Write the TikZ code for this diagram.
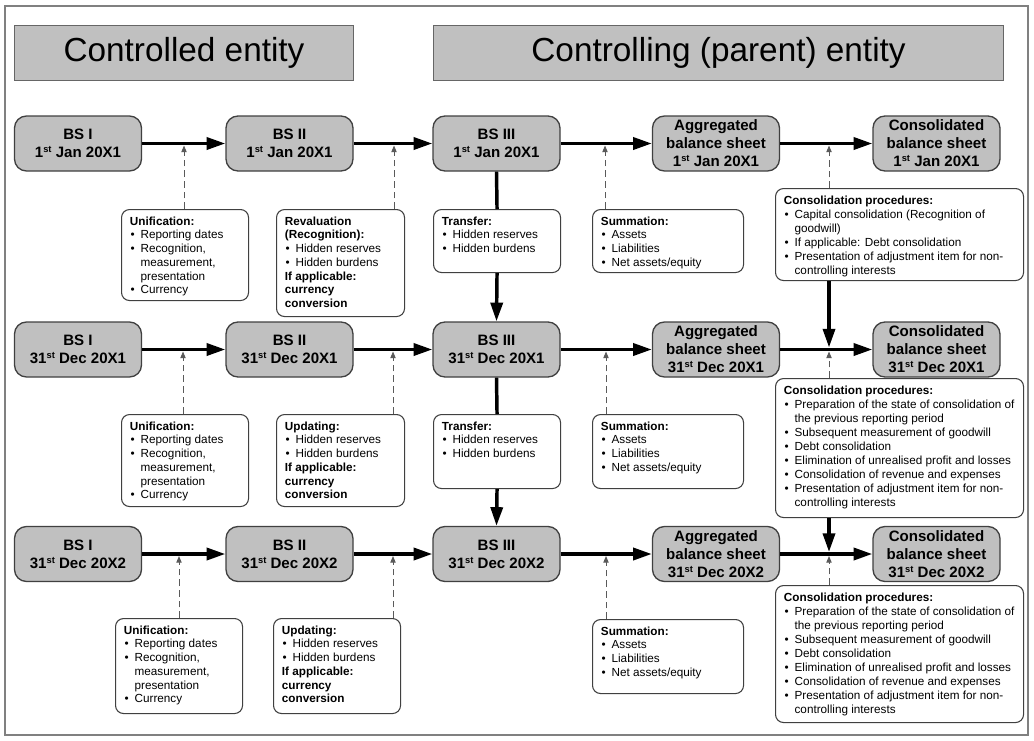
\documentclass[tikz,border=0pt]{standalone}
\usepackage{fontspec}
\setmainfont{Liberation Sans}
\usetikzlibrary{arrows.meta}
\definecolor{boxgray}{RGB}{192,192,192}
\definecolor{edgegray}{RGB}{64,64,64}
\definecolor{framegray}{RGB}{128,128,128}
\definecolor{dashgray}{RGB}{90,90,90}
\newcommand{\pxl}[1]{#1*0.75pt}
\newcommand{\sups}[1]{\raisebox{0.62ex}{\fontsize{7}{8}\selectfont #1}}
\newcommand{\itm}{\makebox[8pt][l]{\hspace{0.5pt}\textbullet}}
\newcommand{\cnt}{\hspace*{8pt}}
\newcommand{\unif}{\textbf{Unification:}\\ \itm Reporting dates\\ \itm Recognition,\\ \cnt measurement,\\ \cnt presentation\\ \itm Currency}
\newcommand{\updt}{\textbf{Updating:}\\ \itm Hidden reserves\\ \itm Hidden burdens\\ \textbf{If applicable:}\\ \textbf{currency}\\ \textbf{conversion}}
\newcommand{\trans}{\textbf{Transfer:}\\ \itm Hidden reserves\\ \itm Hidden burdens}
\newcommand{\summ}{\textbf{Summation:}\\ \itm Assets\\ \itm Liabilities\\ \itm Net assets/equity}
\newcommand{\consB}{\textbf{Consolidation procedures:}\\ \itm Preparation of the state of consolidation of\\ \cnt the previous reporting period\\ \itm Subsequent measurement of goodwill\\ \itm Debt consolidation\\ \itm Elimination of unrealised profit and losses\\ \itm Consolidation of revenue and expenses\\ \itm Presentation of adjustment item for non-\\ \cnt controlling interests}
\tikzset{
  bsnode/.style={draw=edgegray, line width=1pt, fill=boxgray, rounded corners=9pt,
    minimum width=95.25pt, minimum height=41.25pt, inner sep=0pt, align=center,
    font=\fontsize{11.3}{13.5}\selectfont\bfseries},
  header/.style={draw=edgegray!80, line width=0.8pt, fill=boxgray, anchor=north west,
    inner sep=0pt, minimum height=41.25pt, font=\fontsize{25}{30}\selectfont},
  annbox/.style={draw=edgegray, line width=0.8pt, fill=white, rounded corners=6pt,
    anchor=north west, inner sep=0pt},
  anntext/.style={anchor=north west, inner sep=0pt, align=left,
    font=\fontsize{8.8}{10.3}\selectfont, xshift=6.5pt, yshift=-5.5pt},
  anntextc/.style={anntext, font=\fontsize{8.8}{10.5}\selectfont},
  flow/.style={line width=2.6pt, -{Triangle[length=14pt,width=9pt]}},
  flowline/.style={line width=2.6pt},
  feed/.style={draw=dashgray, line width=0.75pt, dash pattern=on 5pt off 3pt,
    -{Triangle[length=5pt,width=4pt]}}
}
\begin{document}
\begin{tikzpicture}[x=0.75pt,y=-0.75pt]
\useasboundingbox (0,0) rectangle (1034,740);
\draw[framegray, line width=1pt] (5,6) rectangle (1028,735);
% headers
\node[header, minimum width=\pxl{339}] (h1) at (14,25) {Controlled entity};
\node[header, minimum width=\pxl{570}] (h2) at (433,25) {Controlling (parent) entity};
% row 1 nodes
\node[bsnode] (n11) at (78,143.5) {BS I\\1\sups{st} Jan 20X1};
\node[bsnode] (n12) at (289.5,143.5) {BS II\\1\sups{st} Jan 20X1};
\node[bsnode] (n13) at (496.5,143.5) {BS III\\1\sups{st} Jan 20X1};
\node[bsnode] (n14) at (716,143.5) {Aggregated\\balance sheet\\1\sups{st} Jan 20X1};
\node[bsnode] (n15) at (936.5,143.5) {Consolidated\\balance sheet\\1\sups{st} Jan 20X1};
% row 2 nodes
\node[bsnode] (n21) at (78,349.5) {BS I\\31\sups{st} Dec 20X1};
\node[bsnode] (n22) at (289.5,349.5) {BS II\\31\sups{st} Dec 20X1};
\node[bsnode] (n23) at (496.5,349.5) {BS III\\31\sups{st} Dec 20X1};
\node[bsnode] (n24) at (716,349.5) {Aggregated\\balance sheet\\31\sups{st} Dec 20X1};
\node[bsnode] (n25) at (936.5,349.5) {Consolidated\\balance sheet\\31\sups{st} Dec 20X1};
% row 3 nodes
\node[bsnode] (n31) at (78,554) {BS I\\31\sups{st} Dec 20X2};
\node[bsnode] (n32) at (289.5,554) {BS II\\31\sups{st} Dec 20X2};
\node[bsnode] (n33) at (496.5,554) {BS III\\31\sups{st} Dec 20X2};
\node[bsnode] (n34) at (716,554) {Aggregated\\balance sheet\\31\sups{st} Dec 20X2};
\node[bsnode] (n35) at (936.5,554) {Consolidated\\balance sheet\\31\sups{st} Dec 20X2};
% annotation boxes row 1
\node[annbox, minimum width=\pxl{127}, minimum height=\pxl{91}] (u1) at (121,209) {};
\node[anntext] (tu1) at (u1.north west) {\unif};
\node[annbox, minimum width=\pxl{128}, minimum height=\pxl{107}] (r1) at (276,209) {};
\node[anntext] (tr1) at (r1.north west) {\textbf{Revaluation}\\ \textbf{(Recognition):}\\ \itm Hidden reserves\\ \itm Hidden burdens\\ \textbf{If applicable:}\\ \textbf{currency}\\ \textbf{conversion}};
\node[annbox, minimum width=\pxl{127}, minimum height=\pxl{63}] (t1) at (433,209) {};
\node[anntext] (tt1) at (t1.north west) {\trans};
\node[annbox, minimum width=\pxl{151}, minimum height=\pxl{63}] (s1) at (592,209) {};
\node[anntext] (ts1) at (s1.north west) {\summ};
\node[annbox, minimum width=\pxl{248}, minimum height=\pxl{92}] (c1) at (775,188) {};
\node[anntextc] (tc1) at (c1.north west) {\textbf{Consolidation procedures:}\\ \itm Capital consolidation (Recognition of\\ \cnt goodwill)\\ \itm If applicable: Debt consolidation\\ \itm Presentation of adjustment item for non-\\ \cnt controlling interests};
% annotation boxes row 2
\node[annbox, minimum width=\pxl{127}, minimum height=\pxl{92}] (u2) at (121,414) {};
\node[anntext] (tu2) at (u2.north west) {\unif};
\node[annbox, minimum width=\pxl{128}, minimum height=\pxl{92}] (r2) at (276,414) {};
\node[anntext] (tr2) at (r2.north west) {\updt};
\node[annbox, minimum width=\pxl{127}, minimum height=\pxl{74}] (t2) at (433,414) {};
\node[anntext] (tt2) at (t2.north west) {\trans};
\node[annbox, minimum width=\pxl{151}, minimum height=\pxl{74}] (s2) at (592,414) {};
\node[anntext] (ts2) at (s2.north west) {\summ};
\node[annbox, minimum width=\pxl{248}, minimum height=\pxl{139}] (c2) at (775,378) {};
\node[anntextc] (tc2) at (c2.north west) {\consB};
% annotation boxes row 3
\node[annbox, minimum width=\pxl{127}, minimum height=\pxl{95}] (u3) at (115,618) {};
\node[anntext] (tu3) at (u3.north west) {\unif};
\node[annbox, minimum width=\pxl{127}, minimum height=\pxl{95}] (r3) at (273,618) {};
\node[anntext] (tr3) at (r3.north west) {\updt};
\node[annbox, minimum width=\pxl{151}, minimum height=\pxl{74}] (s3) at (592,619) {};
\node[anntext] (ts3) at (s3.north west) {\summ};
\node[annbox, minimum width=\pxl{248}, minimum height=\pxl{137}] (c3) at (775,585) {};
\node[anntextc] (tc3) at (c3.north west) {\consB};
% horizontal flows
\foreach \r in {1,2,3}{
  \draw[flow] (n\r1.east) -- (n\r2.west);
  \draw[flow] (n\r2.east) -- (n\r3.west);
  \draw[flow] (n\r3.east) -- (n\r4.west);
  \draw[flow] (n\r4.east) -- (n\r5.west);
}
% vertical transfer flows
\draw[flowline] (n13.south) -- (t1.north);
\draw[flow] (t1.south) -- (n23.north);
\draw[flowline] (n23.south) -- (t2.north);
\draw[flow] (t2.south) -- (n33.north);
% feed points on the flow lines
\coordinate (p11) at (184,145.5);
\coordinate (p12) at (394,145.5);
\coordinate (p13) at (605,145.5);
\coordinate (p14) at (829,145.5);
\coordinate (p21) at (183,351.5);
\coordinate (p22) at (393,351.5);
\coordinate (p23) at (606,351.5);
\coordinate (p24) at (829,351.5);
\coordinate (p31) at (179,556);
\coordinate (p32) at (393,556);
\coordinate (p33) at (606,556);
\coordinate (p34) at (829,556);
\coordinate (q2) at (829,347.5);
\coordinate (q3) at (829,552);
\draw[feed] (p11 |- u1.north) -- (p11);
\draw[feed] (p12 |- r1.north) -- (p12);
\draw[feed] (p13 |- s1.north) -- (p13);
\draw[feed] (p14 |- c1.north) -- (p14);
\draw[feed] (p21 |- u2.north) -- (p21);
\draw[feed] (p22 |- r2.north) -- (p22);
\draw[feed] (p23 |- s2.north) -- (p23);
\draw[feed] (p24 |- c2.north) -- (p24);
\draw[feed] (p31 |- u3.north) -- (p31);
\draw[feed] (p32 |- r3.north) -- (p32);
\draw[feed] (p33 |- s3.north) -- (p33);
\draw[feed] (p34 |- c3.north) -- (p34);
% consolidation procedures carried forward
\draw[flow] (q2 |- c1.south) -- (q2);
\draw[flow] (q3 |- c2.south) -- (q3);
\end{tikzpicture}
\end{document}
